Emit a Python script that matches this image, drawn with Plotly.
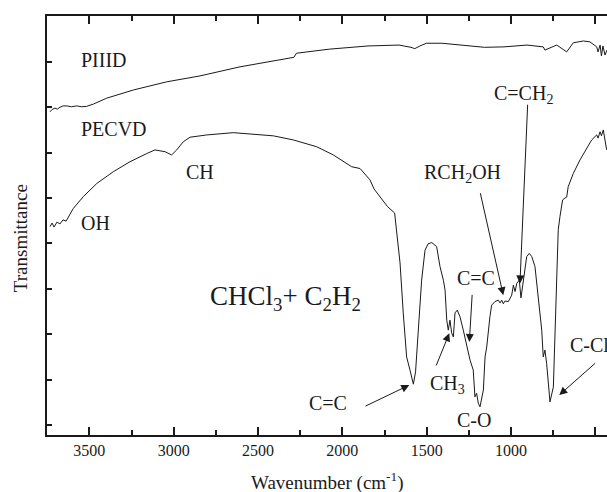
import plotly.graph_objects as go

# ---- data ----
piiid_wn = [3733, 3721, 3704, 3690, 3674, 3655, 3634, 3605, 3575, 3545,
            3516, 3476, 3397, 3239, 3041, 2844, 2607, 2287, 2272, 2076,
            1848, 1664, 1593, 1571, 1540, 1502, 1410, 1273, 1157, 1042,
            905, 809, 799, 729, 670, 631, 571, 532, 492, 484,
            472, 464, 455, 443, 431]
piiid_t = [6.90, 6.95, 6.98, 6.96, 7.00, 7.03, 7.03, 7.01, 7.03, 7.01,
           7.02, 7.07, 7.20, 7.38, 7.56, 7.69, 7.89, 8.10, 8.19, 8.28,
           8.35, 8.37, 8.32, 8.29, 8.35, 8.41, 8.41, 8.37, 8.32, 8.33,
           8.37, 8.33, 8.26, 8.37, 8.22, 8.42, 8.46, 8.44, 8.33, 8.22,
           8.37, 8.13, 8.35, 8.15, 8.26]

pecvd_wn = [3733, 3721, 3709, 3692, 3674, 3656, 3638, 3615, 3595, 3536,
            3456, 3358, 3259, 3160, 3111, 3051, 3012, 2982, 2943, 2903,
            2804, 2646, 2528, 2409, 2291, 2152, 2054, 1974, 1945, 1895,
            1836, 1812, 1732, 1690, 1678, 1658, 1639, 1629, 1619, 1599,
            1583, 1579, 1566, 1550, 1530, 1510, 1492, 1470, 1441, 1421,
            1401, 1391, 1381, 1372, 1362, 1352, 1342, 1337, 1332, 1319,
            1303, 1283, 1263, 1243, 1224, 1214, 1204, 1194, 1184, 1164,
            1154, 1144, 1125, 1115, 1095, 1075, 1065, 1055, 1046, 1036,
            1016, 996, 986, 976, 966, 951, 941, 927, 907, 892,
            877, 858, 838, 818, 809, 799, 789, 769, 749, 739,
            729, 720, 710, 694, 680, 670, 661, 631, 591, 551,
            522, 492, 484, 472, 464, 453, 443, 433]
pecvd_t = [4.37, 4.45, 4.36, 4.47, 4.43, 4.52, 4.49, 4.63, 4.77, 5.03,
           5.32, 5.58, 5.80, 5.98, 6.06, 6.02, 5.95, 6.06, 6.24, 6.34,
           6.39, 6.44, 6.41, 6.37, 6.28, 6.13, 5.95, 5.76, 5.69, 5.65,
           5.40, 5.20, 4.81, 4.67, 4.30, 3.57, 2.47, 1.87, 1.50, 1.21,
           0.93, 0.90, 1.17, 2.09, 3.19, 3.85, 3.99, 4.02, 3.93, 3.49,
           3.19, 2.97, 2.31, 2.09, 2.31, 2.03, 1.94, 2.20, 2.47, 2.53,
           2.39, 2.09, 1.72, 1.43, 1.21, 0.62, 0.70, 0.48, 0.40, 0.77,
           1.50, 1.72, 2.39, 2.64, 2.72, 2.75, 2.69, 2.75, 2.67, 2.73,
           2.72, 2.86, 3.08, 2.94, 3.12, 3.19, 2.80, 3.19, 3.71, 3.78,
           3.71, 3.49, 2.83, 2.09, 1.50, 1.65, 1.36, 0.51, 0.84, 2.09,
           3.19, 4.30, 4.59, 4.96, 5.00, 5.02, 5.25, 5.54, 5.84, 6.09,
           6.28, 6.39, 6.32, 6.46, 6.37, 6.50, 6.28, 6.06]

x_tickvals = [3500, 3000, 2500, 2000, 1500, 1000, 500]
x_ticktext = ["3500", "3000", "2500", "2000", "1500", "1000", "500"]

FONT = "Liberation Serif"
INK = "#1a1a1a"

fig = go.Figure()
fig.add_trace(go.Scatter(x=piiid_wn, y=piiid_t, mode="lines",
                         line=dict(color=INK, width=1), name="PIIID",
                         showlegend=False))
fig.add_trace(go.Scatter(x=pecvd_wn, y=pecvd_t, mode="lines",
                         line=dict(color=INK, width=1), name="PECVD",
                         showlegend=False))

YR = [-0.22, 9.01]

fig.update_layout(
    width=607, height=492,
    margin=dict(l=47, r=0, t=16, b=57),
    paper_bgcolor="white", plot_bgcolor="white",
    font=dict(family=FONT, color=INK, size=16),
    xaxis=dict(range=[3751, 431], tickvals=x_tickvals, ticktext=x_ticktext,
               ticks="inside", ticklen=8, tickwidth=2, tickcolor=INK,
               showline=True, linewidth=2, linecolor=INK, mirror="allticks",
               showgrid=False, zeroline=False,
               tickfont=dict(family=FONT, size=16, color=INK),
               minor=dict(dtick=250, tick0=0, ticks="inside", ticklen=5,
                          tickwidth=2, tickcolor=INK, showgrid=False)),
    yaxis=dict(range=YR, dtick=1, tick0=0, ticks="inside", ticklen=5,
               tickwidth=2, tickcolor=INK, showline=True, linewidth=2,
               linecolor=INK, showticklabels=False, showgrid=False,
               zeroline=False),
    yaxis2=dict(range=YR, dtick=1, tick0=0, ticks="inside", ticklen=5,
                tickwidth=2, tickcolor=INK, showline=False,
                showticklabels=False, showgrid=False, zeroline=False,
                overlaying="y", side="right"),
)

ann = []
# axis titles
ann.append(dict(text="Wavenumber (cm<sup>-1</sup>)", xref="paper", yref="paper",
                x=0.5, y=-0.112, xanchor="center", yanchor="middle",
                showarrow=False, font=dict(family=FONT, size=19, color=INK)))
ann.append(dict(text="Transmittance", xref="paper", yref="paper",
                x=-0.048, y=0.47, xanchor="center", yanchor="middle",
                textangle=-90, showarrow=False,
                font=dict(family=FONT, size=19, color=INK)))

labels = [
    ("PIIID", 3561, 8.04, 20),
    ("PECVD", 3561, 6.51, 20),
    ("OH", 3561, 4.46, 20),
    ("CH", 2939, 5.58, 20),
    ("CHCl<sub>3</sub>+ C<sub>2</sub>H<sub>2</sub>", 2795, 2.80, 27),
    ("RCH<sub>2</sub>OH", 1530, 5.55, 20),
    ("C=CH<sub>2</sub>", 1111, 7.28, 20),
    ("C=C", 1332, 3.24, 20),
    ("C=C", 2211, 0.48, 20),
    ("CH<sub>3</sub>", 1490, 0.90, 20),
    ("C-O", 1332, 0.11, 20),
    ("C-Cl", 660, 1.76, 20),
]
for t, x, y, s in labels:
    ann.append(dict(text=t, x=x, y=y, xref="x", yref="y", xanchor="left",
                    yanchor="middle", showarrow=False,
                    font=dict(family=FONT, size=s, color=INK)))

arrows = [
    (1603, 0.88, 1872, 0.40),
    (1366, 2.02, 1447, 1.28),
    (1247, 1.83, 1230, 2.90),
    (1046, 2.86, 1184, 5.14),
    (947, 3.12, 901, 7.09),
    (714, 0.66, 492, 1.39),
]
for x, y, axv, ayv in arrows:
    ann.append(dict(text="", x=x, y=y, ax=axv, ay=ayv, xref="x", yref="y",
                    axref="x", ayref="y", showarrow=True, arrowhead=2,
                    arrowsize=1.6, arrowwidth=1, arrowcolor=INK,
                    standoff=0, startstandoff=0))

fig.update_layout(annotations=ann)
fig.write_html("out.html")
